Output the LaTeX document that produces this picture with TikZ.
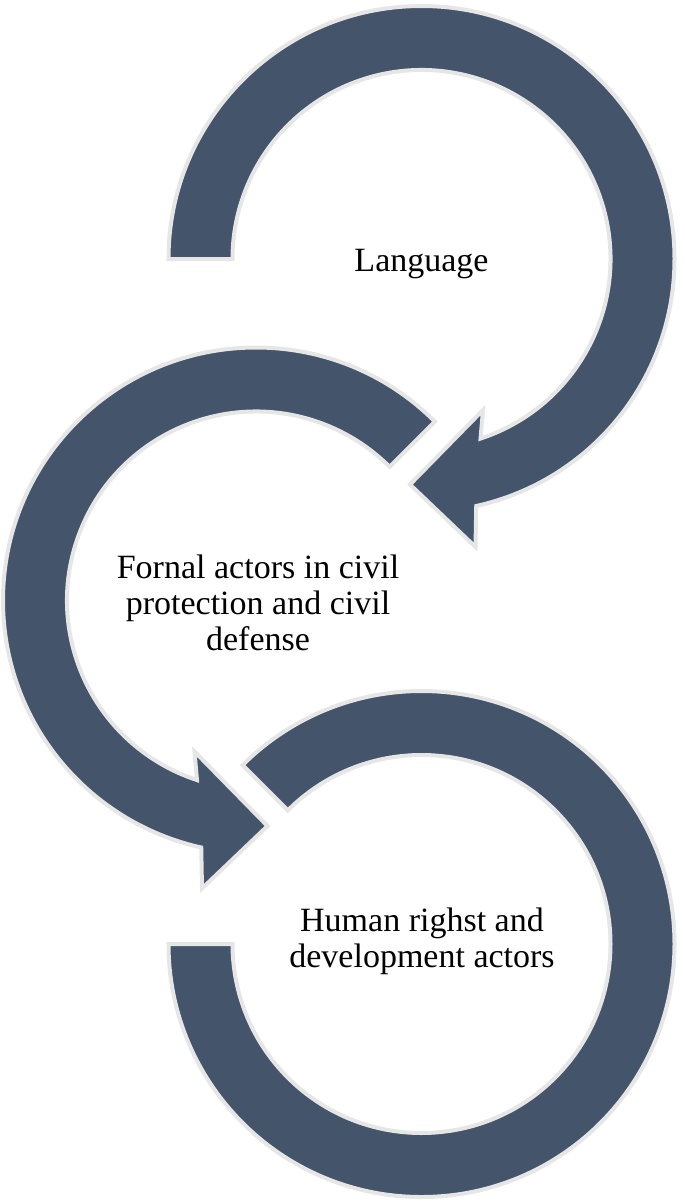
\documentclass[tikz,border=0pt]{standalone}
\usepackage{fontspec}
\setmainfont{Liberation Serif}
\definecolor{slate}{HTML}{44546A}
\definecolor{rim}{HTML}{E7E6E6}
\begin{document}
\begin{tikzpicture}[x=0.75pt,y=0.75pt,
  ringshape/.style={fill=slate,draw=rim,line width=3pt,line join=miter},
  txt/.style={font=\fontsize{25.5}{27}\selectfont,align=center,text=black,inner sep=0pt}]
\useasboundingbox (0,0) rectangle (685,-1203);
\coordinate (c1) at (421.5,-259);
\coordinate (c2) at (256,-600.5);
\coordinate (c3) at (421.5,-944);
% arrow 1
\path[ringshape] ([shift={(c1)}]180:253) arc[start angle=180,end angle=-77.5,radius=253]
  -- ([shift={(c1)}]54,-288)
  -- ([shift={(c1)}]-11.5,-225.5)
  -- ([shift={(c1)}]61.5,-151)
  -- ([shift={(c1)}]-71.8:189) arc[start angle=-71.8,end angle=180,radius=189] -- cycle;
% arrow 2
\path[ringshape] ([shift={(c2)}]45:253) arc[start angle=45,end angle=257.5,radius=253]
  -- ([shift={(c2)}]-54,-288)
  -- ([shift={(c2)}]11.5,-225.5)
  -- ([shift={(c2)}]-61.5,-151)
  -- ([shift={(c2)}]251.8:189) arc[start angle=251.8,end angle=45,radius=189] -- cycle;
% arc 3
\path[ringshape] ([shift={(c3)}]180:253) arc[start angle=180,end angle=495,radius=253]
  -- ([shift={(c3)}]135:189) arc[start angle=495,end angle=180,radius=189] -- cycle;
\node[txt] (t1) at (421.5,-264) {Language};
\node[txt] (t2) at (258,-603) {Fornal actors in civil\\protection and civil\\defense};
\node[txt] (t3) at (422,-941) {Human righst and\\development actors};
\end{tikzpicture}
\end{document}
